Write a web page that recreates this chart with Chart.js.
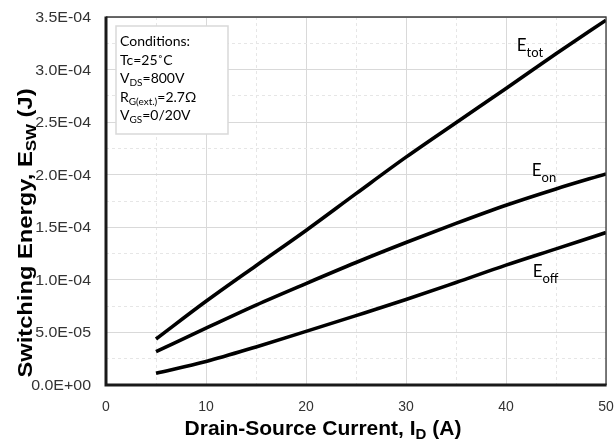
<!DOCTYPE html>
<html>
<head>
<meta charset="utf-8">
<script src="https://cdn.jsdelivr.net/npm/chart.js@4.4.0/dist/chart.umd.min.js"></script>
<style>
  html, body { margin: 0; padding: 0; background: #fff; }
  #wrap { width: 614px; height: 441px; position: relative; }
</style>
</head>
<body>
<div id="wrap"><canvas id="esw"></canvas></div>
<script>
// drain-source current (A)
const currents = [5, 10, 15, 20, 25, 30, 35, 40, 45, 50];
// switching energies (J)
const eTot = [4.37e-5, 7.96e-5, 1.135e-4, 1.47e-4, 1.82e-4, 2.167e-4, 2.495e-4, 2.82e-4, 3.15e-4, 3.47e-4];
const eOn  = [3.18e-5, 5.4e-5, 7.6e-5, 9.65e-5, 1.165e-4, 1.355e-4, 1.537e-4, 1.71e-4, 1.865e-4, 2.008e-4];
const eOff = [1.12e-5, 2.23e-5, 3.62e-5, 5.1e-5, 6.6e-5, 8.13e-5, 9.75e-5, 1.14e-4, 1.295e-4, 1.45e-4];

// curve names and where they sit (data units: current, energy at text baseline)
const curveNames = [['E', 'tot'], ['E', 'on'], ['E', 'off']];
const curveLabelX = [41.07, 42.57, 42.67];
const curveLabelY = [3.174e-4, 1.984e-4, 1.031e-4];

// test conditions box, [text, isSubscript]
const conditions = [
  [['Conditions:']],
  [['Tc=25\u02DAC']],
  [['V'], ['DS', 1], ['=800V']],
  [['R'], ['G(ext.)', 1], ['=2.7\u03A9']],
  [['V'], ['GS', 1], ['=0/20V']]
];

const xTitle = [['Drain-Source Current, I'], ['D', 1], [' (A)']];
const yTitle = [['Switching Energy, E'], ['SW', 1], [' (J)']];

const SANS = "'Liberation Sans', Arial, sans-serif";

function sci(v) {
  const [m, e] = v.toExponential(1).split('e');
  const n = Math.abs(parseInt(e, 10));
  return m + 'E' + (e[0] === '-' ? '-' : '+') + (n < 10 ? '0' + n : n);
}

// draw a run of text pieces, some of them subscripts
function drawParts(ctx, parts, x, y, o) {
  ctx.save();
  ctx.translate(x, y);
  if (o.rot) ctx.rotate(o.rot);
  ctx.scale(o.sx || 1, 1);
  let w = 0;
  parts.forEach(([t, sub]) => { ctx.font = sub ? o.sub : o.font; w += ctx.measureText(t).width; });
  let cx = o.align === 'center' ? -w / 2 : o.align === 'right' ? -w : 0;
  ctx.textAlign = 'left';
  ctx.textBaseline = 'alphabetic';
  ctx.fillStyle = o.color || '#000';
  parts.forEach(([t, sub]) => {
    ctx.font = sub ? o.sub : o.font;
    ctx.fillText(t, cx, sub ? (o.subDy || 0) : 0);
    cx += ctx.measureText(t).width;
  });
  ctx.restore();
}

const decor = {
  id: 'decor',
  beforeDatasetsDraw(chart) {
    const {ctx, chartArea: a} = chart;
    ctx.save();
    ctx.fillStyle = '#fff';
    ctx.strokeStyle = '#d9d9d9';
    ctx.lineWidth = 1.5;
    ctx.fillRect(a.left + 10, a.top + 9, 112, 108);
    ctx.strokeRect(a.left + 10, a.top + 9, 112, 108);
    ctx.restore();
    conditions.forEach((line, i) => {
      drawParts(ctx, line, a.left + 14, a.top + 29 + i * 18.5,
        {font: "14px Lato, 'Open Sans', sans-serif", sub: "10px Lato, 'Open Sans', sans-serif", subDy: 3, color: '#000'});
    });
  },
  afterDraw(chart) {
    const {ctx, chartArea: a, scales: {x, y}} = chart;
    // plot frame
    ctx.save();
    ctx.strokeStyle = '#3a3a3a';
    ctx.lineWidth = 1.3;
    ctx.beginPath();
    ctx.moveTo(a.left, a.top);
    ctx.lineTo(a.right, a.top);
    ctx.lineTo(a.right, a.bottom);
    ctx.stroke();
    ctx.strokeStyle = '#1a1a1a';
    ctx.lineWidth = 3;
    ctx.beginPath();
    ctx.moveTo(a.left, a.top - 0.6);
    ctx.lineTo(a.left, a.bottom);
    ctx.lineTo(a.right + 0.6, a.bottom);
    ctx.stroke();
    ctx.restore();

    // tick labels
    y.ticks.forEach(t => {
      if (Math.round(t.value / 2.5e-5) % 2 !== 0) return;
      drawParts(ctx, [[sci(t.value)]], a.left - 15, y.getPixelForValue(t.value) + 5,
        {font: '14.5px ' + SANS, align: 'right', sx: 1.1, color: '#333'});
    });
    x.ticks.forEach(t => {
      if (t.value % 10 !== 0) return;
      drawParts(ctx, [[String(t.value)]], x.getPixelForValue(t.value), a.bottom + 26,
        {font: '14px ' + SANS, align: 'center', color: '#333'});
    });

    // axis titles
    drawParts(ctx, xTitle, 323, 435,
      {font: 'bold 21px ' + SANS, sub: 'bold 15px ' + SANS, subDy: 4, align: 'center'});
    drawParts(ctx, yTitle, 32, 233,
      {font: 'bold 21px ' + SANS, sub: 'bold 15px ' + SANS, subDy: 4, align: 'center', rot: -Math.PI / 2, sx: 1.13});

    // curve names
    curveNames.forEach(([main, sub], i) => {
      drawParts(ctx, [[main], [sub, 1]], x.getPixelForValue(curveLabelX[i]), y.getPixelForValue(curveLabelY[i]),
        {font: "17px Lato, 'Open Sans', sans-serif", sub: "13px Lato, 'Open Sans', sans-serif", subDy: 6});
    });
  }
};

const curve = (label, data) => ({
  label,
  data: currents.map((c, i) => ({x: c, y: data[i]})),
  borderColor: '#000',
  backgroundColor: '#000',
  borderWidth: 3.6,
  pointRadius: 0,
  cubicInterpolationMode: 'monotone',
  fill: false
});

const isMinor = (v, step) => Math.round(v / step) % 2 !== 0;

new Chart(document.getElementById('esw'), {
  type: 'line',
  data: {
    datasets: [curve('Etot', eTot), curve('Eon', eOn), curve('Eoff', eOff)]
  },
  options: {
    responsive: true,
    maintainAspectRatio: false,
    animation: false,
    layout: { padding: { top: 17, right: 8, left: 0, bottom: 0 } },
    plugins: { legend: { display: false }, tooltip: { enabled: false } },
    scales: {
      x: {
        type: 'linear',
        min: 0,
        max: 50,
        ticks: { stepSize: 5, display: false },
        grid: {
          drawTicks: false,
          color: c => isMinor(c.tick.value, 5) ? '#e6e6e6' : '#d9d9d9',
          lineWidth: 1
        },
        border: { display: false, dash: c => (c.tick && isMinor(c.tick.value, 5)) ? [3, 3] : [] },
        afterFit: s => { s.height = 56; }
      },
      y: {
        min: 0,
        max: 3.5e-4,
        ticks: { stepSize: 2.5e-5, display: false },
        grid: {
          drawTicks: false,
          color: c => isMinor(c.tick.value, 2.5e-5) ? '#e6e6e6' : '#d9d9d9',
          lineWidth: 1
        },
        border: { display: false, dash: c => (c.tick && isMinor(c.tick.value, 2.5e-5)) ? [3, 3] : [] },
        afterFit: s => { s.width = 106; }
      }
    }
  },
  plugins: [decor]
});
</script>
</body>
</html>
